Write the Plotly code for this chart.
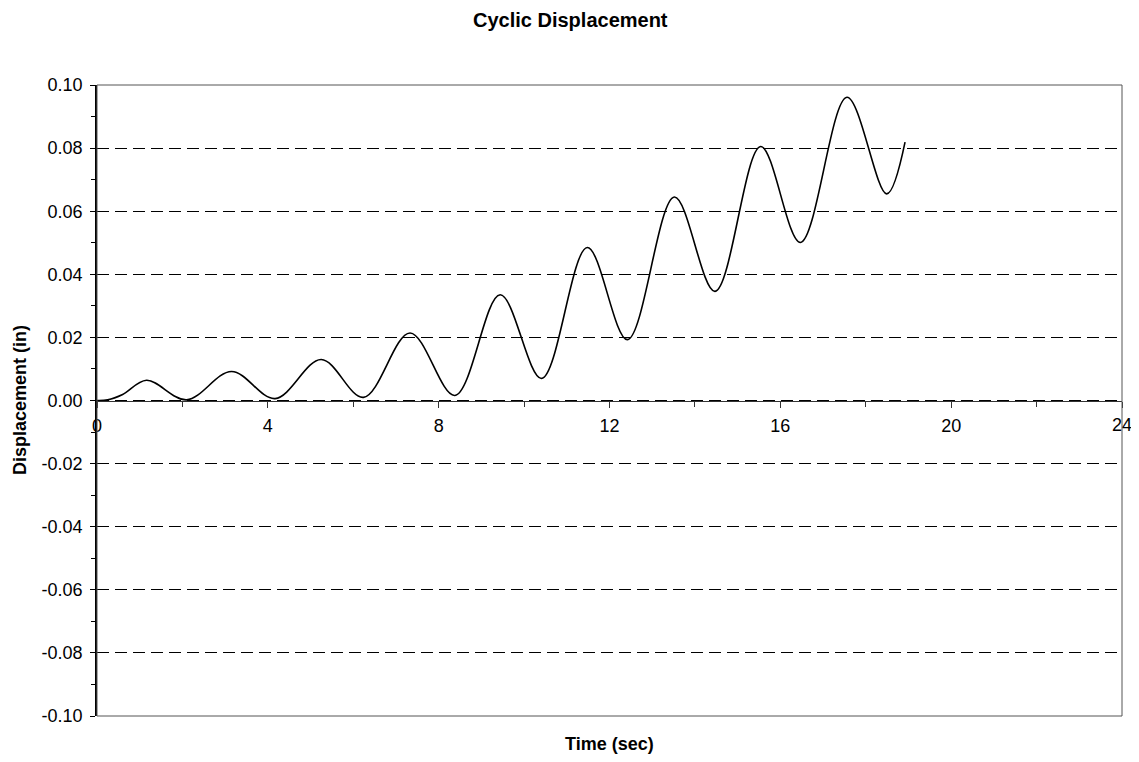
import plotly.graph_objects as go

# Data (start, then each peak and trough, then the end)
time_sec = [0.0, 0.25, 0.6, 1.16, 2.10, 3.15, 4.17, 5.25, 6.24, 7.33, 8.38, 9.44, 10.41,
            11.48, 12.42, 13.52, 14.47, 15.54, 16.47, 17.56, 18.49, 18.92]
displacement_in = [0.0, 0.0002, 0.0019, 0.0064, 0.0002, 0.0092, 0.0006, 0.0130, 0.0010, 0.0214,
                   0.0016, 0.0335, 0.0070, 0.0485, 0.0193, 0.0645, 0.0346, 0.0805, 0.0501,
                   0.0961, 0.0655, 0.0819]

x_ticks = [0, 4, 8, 12, 16, 20, 24]
y_ticks = [-0.10, -0.08, -0.06, -0.04, -0.02, 0.00, 0.02, 0.04, 0.06, 0.08, 0.10]

FONT = "Liberation Sans, Arial, sans-serif"

# The page body has an 8px margin, so the figure is drawn 8px smaller and offset.
OFF = 8
W, H = 1139 - 2 * OFF, 762 - 2 * OFF
PL, PR, PT, PB = 97 - OFF, 1122 - OFF, 85 - OFF, 716 - OFF   # plot area in figure px
PW, PH = PR - PL, PB - PT


def px(xp):
    return (xp - OFF - PL) / PW


def py(yp):
    return (PB - (yp - OFF)) / PH


fig = go.Figure()
fig.add_trace(go.Scatter(
    x=time_sec, y=displacement_in, mode="lines",
    line=dict(color="black", width=1.6, shape="spline", smoothing=1.0),
    showlegend=False, hoverinfo="x+y",
))

# last x label sits on the right border; it is drawn as an annotation so it is not hidden
x_labels = [str(v) for v in x_ticks[:-1]] + [""]

fig.update_layout(
    width=W, height=H,
    margin=dict(l=PL, r=W - PR, t=PT, b=H - PB, pad=0),
    paper_bgcolor="white", plot_bgcolor="white",
    font=dict(family=FONT, size=18, color="black"),
    showlegend=False,
    xaxis=dict(
        range=[0, 24], tickvals=x_ticks, ticktext=x_labels,
        anchor="free", position=0.5,
        showline=True, linecolor="#333", linewidth=1.2,
        ticks="outside", ticklen=6, tickcolor="#333", tickwidth=1,
        ticklabelstandoff=3,
        minor=dict(dtick=2, tick0=0, ticks="outside", ticklen=5, tickcolor="#333", showgrid=False),
        showgrid=False, zeroline=False,
        tickfont=dict(family=FONT, size=18),
    ),
    yaxis=dict(
        range=[-0.10, 0.10], tickvals=y_ticks, ticktext=[f"{v:.2f}" for v in y_ticks],
        showline=True, linecolor="black", linewidth=1.6,
        ticks="outside", ticklen=5, tickcolor="black", tickwidth=1,
        ticklabelstandoff=4,
        minor=dict(dtick=0.01, tick0=0, ticks="outside", ticklen=4, tickcolor="black", showgrid=False),
        showgrid=True, gridcolor="black", gridwidth=1, griddash="12px,6px",
        zeroline=False,
        tickfont=dict(family=FONT, size=18),
    ),
    shapes=[dict(type="rect", xref="paper", yref="paper", x0=0, x1=1, y0=0, y1=1,
                 line=dict(color="#555", width=1), layer="above")],
    annotations=[
        dict(text="<b>Cyclic Displacement</b>", xref="paper", yref="paper",
             x=px(570), y=py(20), xanchor="center", yanchor="middle",
             showarrow=False, font=dict(family=FONT, size=20)),
        dict(text="<b>Time (sec)</b>", xref="paper", yref="paper",
             x=px(609), y=py(744), xanchor="center", yanchor="middle",
             showarrow=False, font=dict(family=FONT, size=18), borderpad=0),
        dict(text="<b>Displacement (in)</b>", xref="paper", yref="paper",
             x=px(20), y=py(400), xanchor="center", yanchor="middle",
             textangle=-90, showarrow=False, font=dict(family=FONT, size=18)),
        dict(text=str(x_ticks[-1]), xref="x", yref="paper",
             x=x_ticks[-1], y=py(425), xanchor="center", yanchor="middle",
             showarrow=False, font=dict(family=FONT, size=18), borderpad=0),
    ],
)

fig.write_html("out.html")
